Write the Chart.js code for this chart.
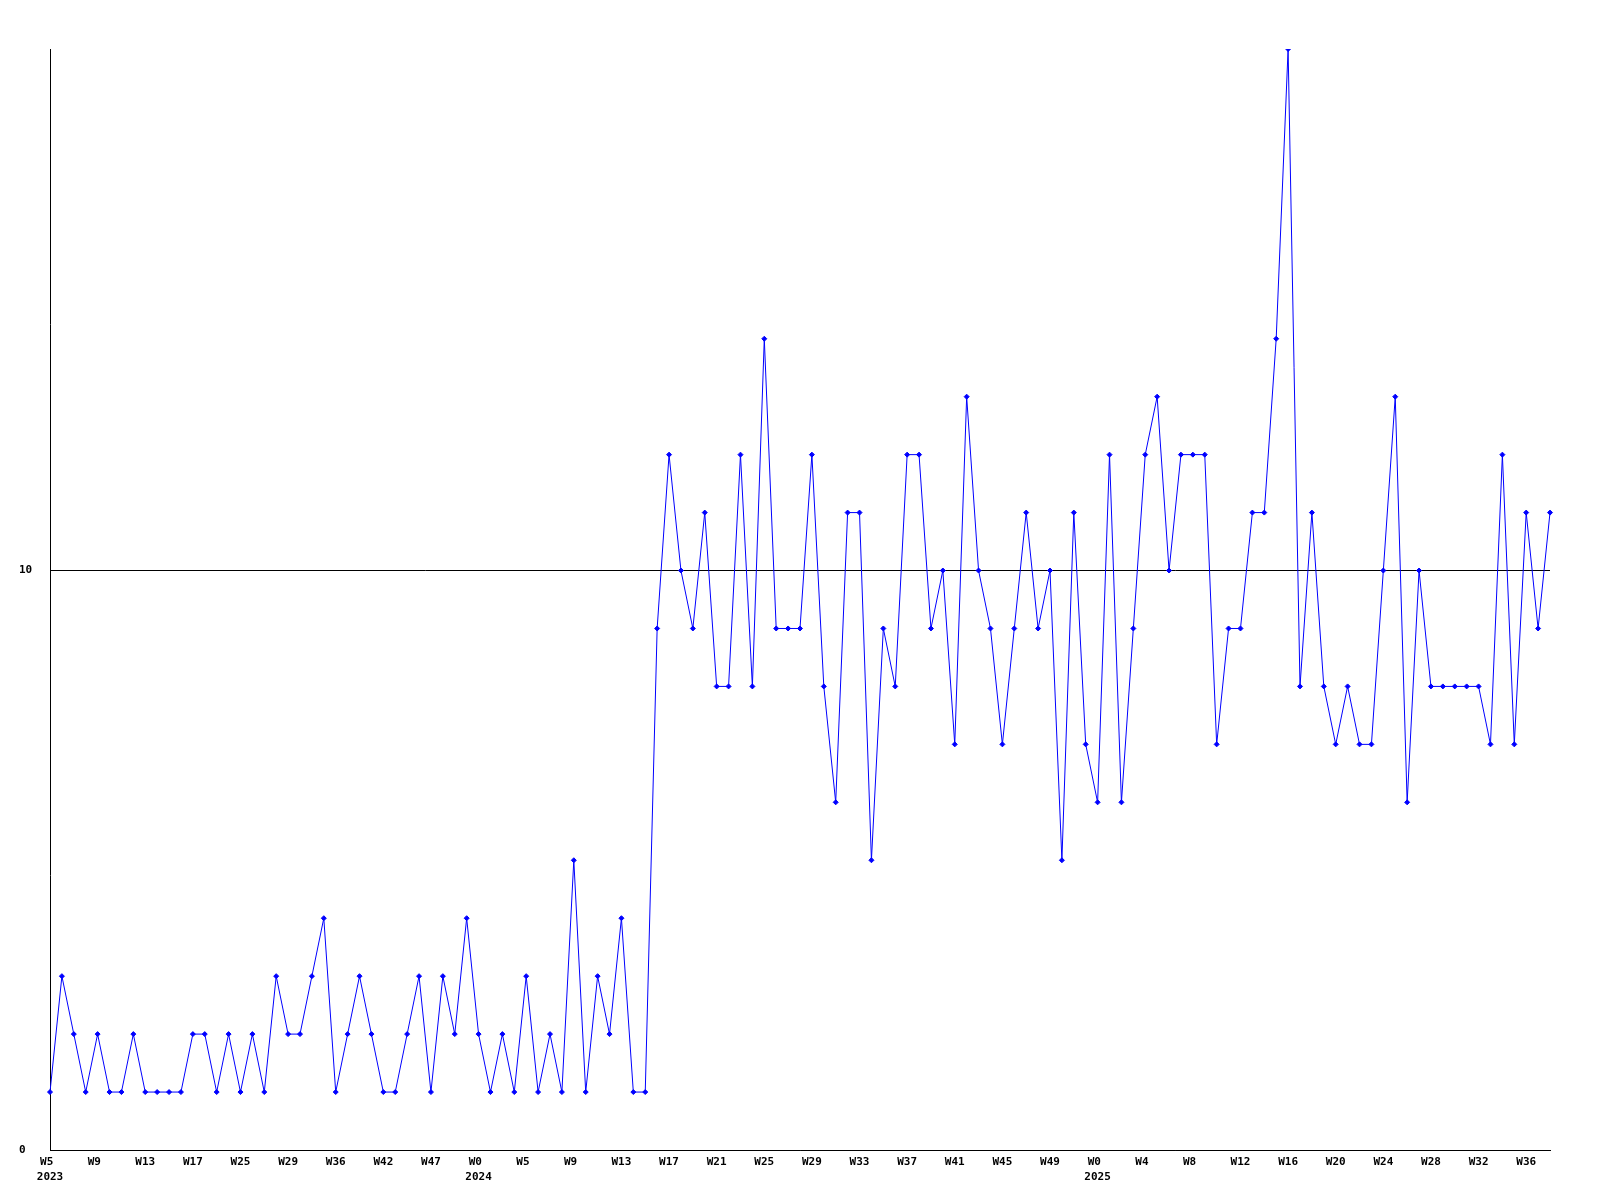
<!DOCTYPE html>
<html>
<head>
<meta charset="utf-8">
<script src="https://cdn.jsdelivr.net/npm/chart.js@4.4.1/dist/chart.umd.min.js"></script>
<style>
    html, body { margin: 0; padding: 0; background: #fff; }
</style>
</head>
<body>
<canvas id="weekChart" width="1600" height="1200"></canvas>
<script>
// weekly counts, one per category (127 weeks)
var counts = [
    1, 3, 2, 1, 2, 1, 1, 2, 1, 1, 1, 1, 2, 2, 1, 2, 1, 2, 1, 3,
    2, 2, 3, 4, 1, 2, 3, 2, 1, 1, 2, 3, 1, 3, 2, 4, 2, 1, 2, 1,
    3, 1, 2, 1, 5, 1, 3, 2, 4, 1, 1, 9, 12, 10, 9, 11, 8, 8, 12, 8,
    14, 9, 9, 9, 12, 8, 6, 11, 11, 5, 9, 8, 12, 12, 9, 10, 7, 13, 10, 9,
    7, 9, 11, 9, 10, 5, 11, 7, 6, 12, 6, 9, 12, 13, 10, 12, 12, 12, 7, 9,
    9, 11, 11, 14, 19, 8, 11, 8, 7, 8, 7, 7, 10, 13, 6, 10, 8, 8, 8, 8,
    8, 7, 12, 7, 11, 9, 11
];

// a label is shown on every 4th week
var weekTicks = [
    'W5', 'W9', 'W13', 'W17', 'W25', 'W29', 'W36', 'W42', 'W47',
    'W0', 'W5', 'W9', 'W13', 'W17', 'W21', 'W25', 'W29', 'W33', 'W37', 'W41', 'W45', 'W49',
    'W0', 'W4', 'W8', 'W12', 'W16', 'W20', 'W24', 'W28', 'W32', 'W36'
];
var tickEvery = 4;
var yearLabels = ['2023', '2024', '2025'];
var yearStart = [0, 9, 22]; // position in weekTicks where each year begins

var yTicks = [0, 10];

(function () {
    var categories = [];
    for (var i = 0; i < counts.length; i++) {
        var label = '';
        if (i % tickEvery === 0 && weekTicks[i / tickEvery] !== undefined) {
            var t = i / tickEvery;
            label = weekTicks[t].padEnd(3, ' ');
            var y = yearStart.indexOf(t);
            if (y >= 0) {
                label = [label, yearLabels[y]];
            }
        }
        categories.push(label);
    }

    var tickFont = {
        family: "'DejaVu Sans Mono', monospace",
        size: 11,
        weight: 'bold',
        lineHeight: 1.4
    };

    var ctx = document.getElementById('weekChart').getContext('2d');
    new Chart(ctx, {
        type: 'line',
        data: {
            labels: categories,
            datasets: [{
                data: counts,
                borderColor: '#0000ff',
                backgroundColor: '#0000ff',
                borderWidth: 1,
                fill: false,
                tension: 0,
                pointStyle: 'rectRot',
                pointRadius: 2.5,
                pointBorderWidth: 1,
                pointBorderColor: '#0000ff',
                pointBackgroundColor: '#0000ff'
            }]
        },
        options: {
            responsive: false,
            animation: false,
            layout: {
                padding: { left: 19, right: 50, top: 49, bottom: 0 }
            },
            plugins: {
                legend: { display: false },
                tooltip: { enabled: false }
            },
            scales: {
                x: {
                    grid: { display: false, drawTicks: false },
                    border: { display: true, color: '#000', width: 1 },
                    ticks: {
                        autoSkip: false,
                        maxRotation: 0,
                        padding: 4,
                        color: '#000',
                        font: tickFont
                    },
                    afterFit: function (scale) { scale.height = 50; }
                },
                y: {
                    min: 0,
                    max: 19,
                    grid: { color: '#000', drawTicks: false },
                    border: { color: '#000', width: 1 },
                    afterBuildTicks: function (scale) {
                        scale.ticks = yTicks.map(function (v) { return { value: v }; });
                    },
                    ticks: {
                        crossAlign: 'far',
                        color: '#000',
                        font: tickFont
                    },
                    afterFit: function (scale) { scale.width = 31; }
                }
            }
        }
    });
})();
</script>
</body>
</html>
